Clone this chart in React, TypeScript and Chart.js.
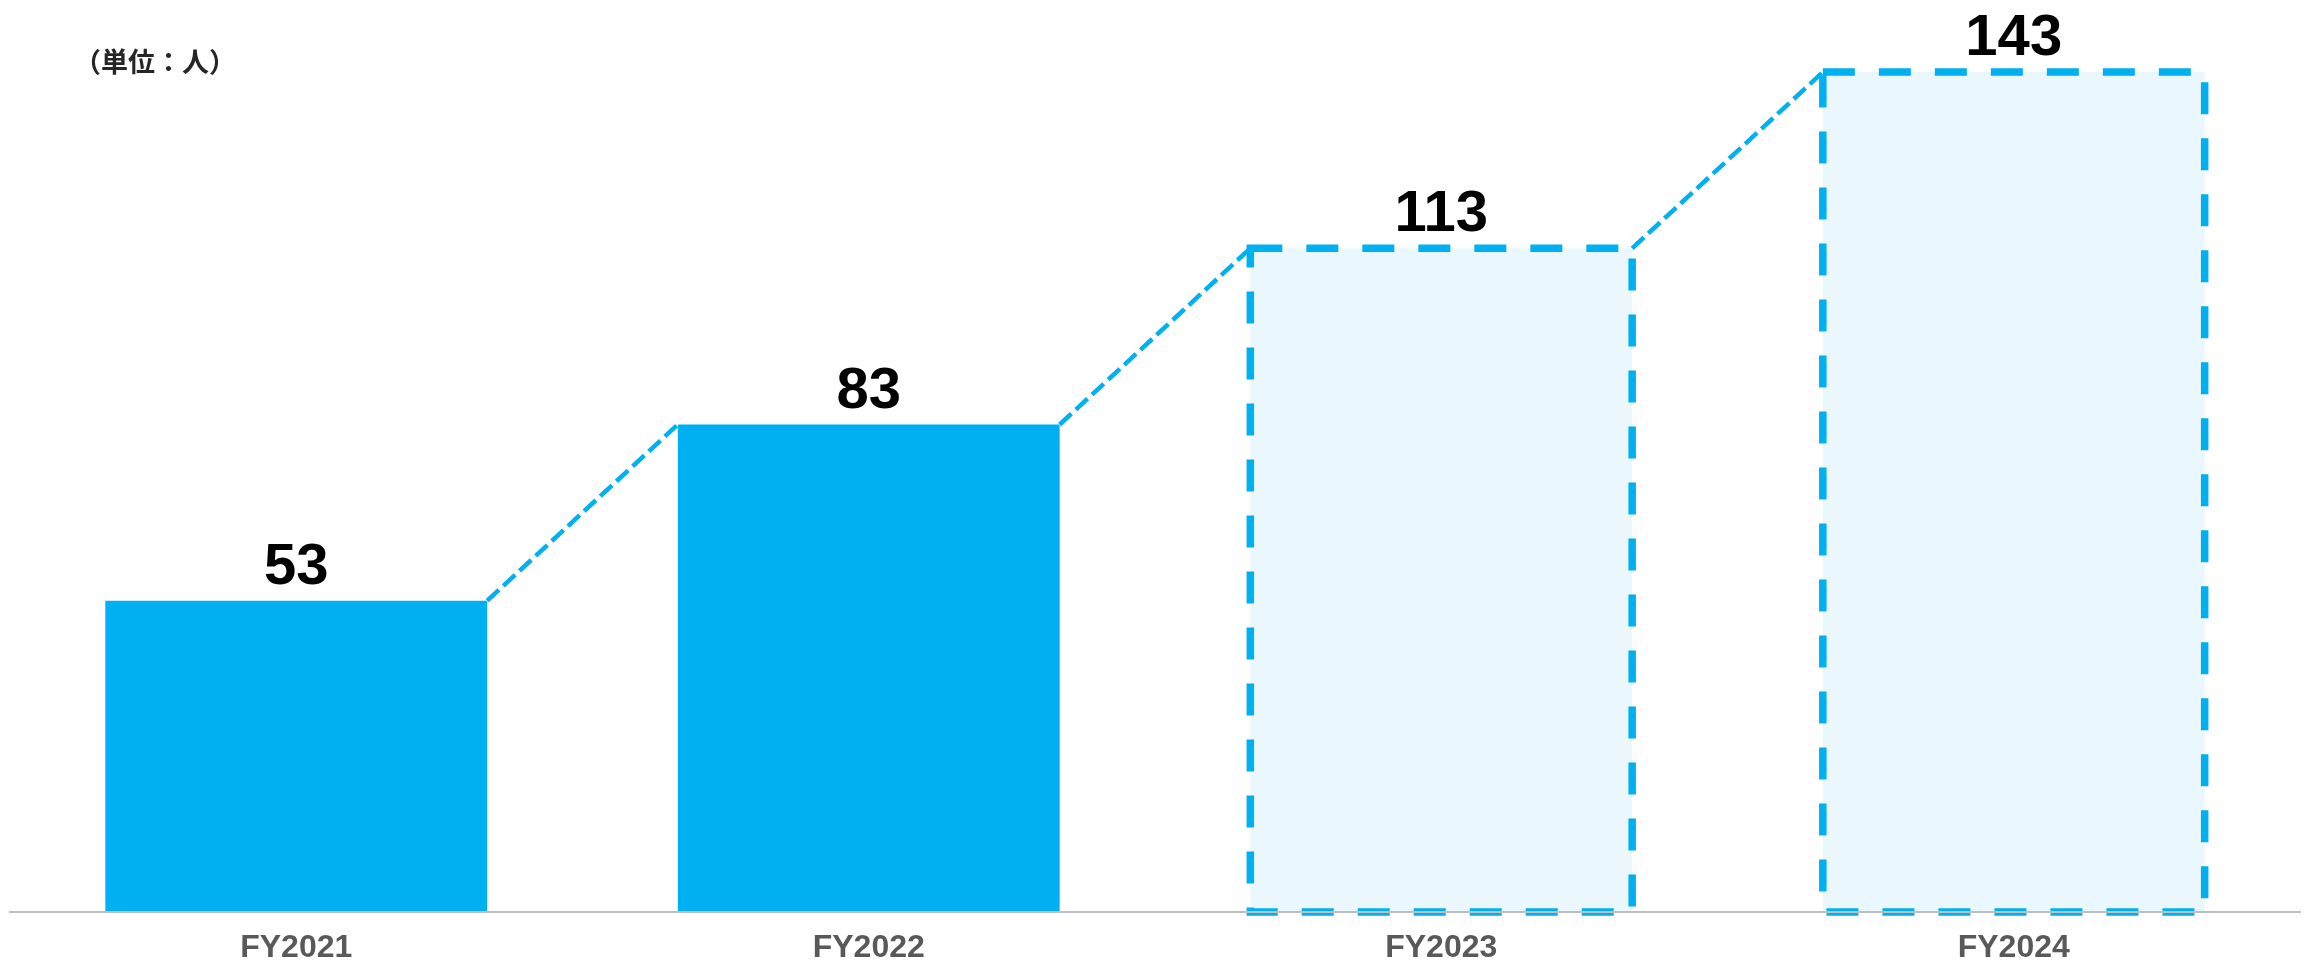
import { useEffect, useRef } from 'react';
import { Chart, registerables } from 'chart.js';

Chart.register(...registerables);

// Headcount by fiscal year (FY2023 and FY2024 are plan figures)
const categories = ['FY2021', 'FY2022', 'FY2023', 'FY2024'];
const headcount = [53, 83, 113, 143];
const isPlan = [false, false, true, true];
const unitLabel = '（単位：人）';

const CYAN = '#00B0F0';
const PLAN_FILL = '#EAF8FD';
const VALUE_FONT = 'bold 58px "Liberation Sans", Arial, sans-serif';
const UNIT_FONT = 'bold 27px "Noto Sans CJK JP", "Noto Sans", sans-serif';

// Draws the dashed connectors between bar tops, the dashed outline of plan
// bars, the value labels and the unit caption.
const overlayPlugin = {
  id: 'headcountOverlay',
  afterDatasetsDraw(chart: any) {
    const ctx: CanvasRenderingContext2D = chart.ctx;
    const meta = chart.getDatasetMeta(0);
    const values = chart.data.datasets[0].data as number[];
    const bars = meta.data.map((el: any) => el.getProps(['x', 'y', 'base', 'width'], true));

    ctx.save();

    // connectors from each bar's top-right corner to the next bar's top-left corner
    ctx.strokeStyle = CYAN;
    ctx.lineWidth = 4.5;
    ctx.lineCap = 'butt';
    ctx.setLineDash([16, 6]);
    for (let i = 0; i < bars.length - 1; i++) {
      const a = bars[i];
      const b = bars[i + 1];
      ctx.beginPath();
      ctx.moveTo(a.x + a.width / 2, a.y);
      ctx.lineTo(b.x - b.width / 2, b.y);
      ctx.stroke();
    }

    // dashed outlines of plan bars
    ctx.lineWidth = 7.5;
    ctx.setLineDash([32, 24]);
    bars.forEach((b: any, i: number) => {
      if (!isPlan[i]) return;
      const l = b.x - b.width / 2;
      const r = b.x + b.width / 2;
      ctx.beginPath();
      ctx.moveTo(l, b.y);
      ctx.lineTo(r, b.y);
      ctx.lineTo(r, b.base);
      ctx.lineTo(l, b.base);
      ctx.closePath();
      ctx.stroke();
    });

    // value labels
    ctx.setLineDash([]);
    ctx.fillStyle = '#000000';
    ctx.font = VALUE_FONT;
    ctx.textAlign = 'center';
    ctx.textBaseline = 'alphabetic';
    bars.forEach((b: any, i: number) => {
      ctx.fillText(String(values[i]), b.x, b.y - 17);
    });

    // unit caption
    ctx.fillStyle = '#262626';
    ctx.font = UNIT_FONT;
    ctx.textAlign = 'left';
    ctx.textBaseline = 'middle';
    ctx.fillText(unitLabel, 74, 62);

    ctx.restore();
  },
};

export default function App() {
  const canvasRef = useRef<HTMLCanvasElement | null>(null);

  useEffect(() => {
    const canvas = canvasRef.current;
    if (!canvas) return;

    const chart = new Chart(canvas, {
      type: 'bar',
      data: {
        labels: categories,
        datasets: [
          {
            label: '人数',
            data: headcount,
            backgroundColor: isPlan.map((p) => (p ? PLAN_FILL : CYAN)),
            borderWidth: 0,
            barPercentage: 0.667,
            categoryPercentage: 1,
          },
        ],
      },
      options: {
        responsive: false,
        animation: false,
        events: [],
        layout: { padding: { left: 10, right: 10, top: 31, bottom: 0 } },
        plugins: {
          legend: { display: false },
          tooltip: { enabled: false },
          title: { display: false },
        },
        scales: {
          x: {
            grid: { display: false, drawTicks: false },
            border: { display: true, color: '#BFBFBF', width: 2, z: 1 },
            ticks: {
              color: '#595959',
              padding: 17,
              font: { family: '"Liberation Sans", Arial, sans-serif', size: 32, weight: 'bold' },
            },
            afterFit: (scale: any) => {
              scale.height = 52;
            },
          },
          y: {
            display: false,
            min: 0,
            max: 150,
          },
        },
      },
      plugins: [overlayPlugin],
    });

    return () => chart.destroy();
  }, []);

  return (
    <div style={{ position: 'fixed', left: 0, top: 0, width: 2310, height: 964, background: '#ffffff' }}>
      <canvas ref={canvasRef} width={2310} height={964} style={{ display: 'block' }} />
    </div>
  );
}
